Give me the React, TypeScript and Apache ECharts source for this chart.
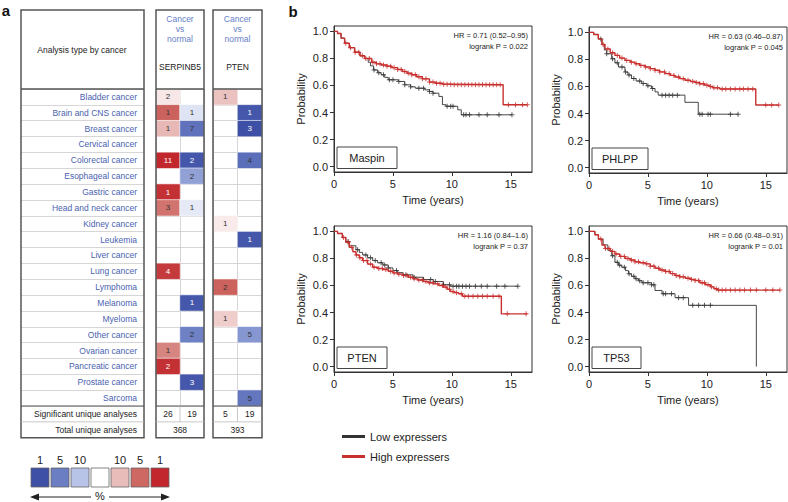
import React, { useEffect, useRef } from 'react';
import * as echarts from 'echarts';

const FONT = 'Liberation Sans, Arial, Helvetica, sans-serif';

// ---------- Panel a: Oncomine-style table ----------
const cancerTypes = [
  'Bladder cancer', 'Brain and CNS cancer', 'Breast cancer', 'Cervical cancer', 'Colorectal cancer',
  'Esophageal cancer', 'Gastric cancer', 'Head and neck cancer', 'Kidney cancer', 'Leukemia',
  'Liver cancer', 'Lung cancer', 'Lymphoma', 'Melanoma', 'Myeloma', 'Other cancer',
  'Ovarian cancer', 'Pancreatic cancer', 'Prostate cancer', 'Sarcoma',
];
const geneNames = ['SERPINB5', 'PTEN'];
const directionCols = ['up', 'down'];
// [column (0 = over-expressed, 1 = under-expressed), row, shade (-1 deep blue … +1 deep red), number of analyses]
const serpinb5Cells = [
  [0, 0, 0.12, 2], [0, 1, 0.7, 1], [1, 1, -0.15, 1], [0, 2, 0.35, 1], [1, 2, -0.75, 7],
  [0, 4, 1.0, 11], [1, 4, -0.95, 2], [1, 5, -0.5, 2], [0, 6, 0.95, 1], [0, 7, 0.62, 3],
  [1, 7, -0.12, 1], [0, 11, 0.9, 4], [1, 13, -0.95, 1], [1, 15, -0.65, 2], [0, 16, 0.55, 1],
  [0, 17, 0.95, 2], [1, 18, -0.95, 3],
];
const ptenCells = [
  [0, 0, 0.3, 1], [1, 1, -0.95, 1], [1, 2, -1.0, 3], [1, 4, -0.78, 4], [0, 8, 0.1, 1],
  [1, 9, -0.95, 1], [0, 12, 0.7, 2], [0, 14, 0.25, 1], [1, 15, -0.55, 5], [1, 19, -0.72, 5],
];
const significantCounts = [[26, 19], [5, 19]];
const totalCounts = [368, 393];
const scaleLabels = ['1', '5', '10', '', '10', '5', '1'];
const scaleColors = ['#3d50a5', '#6b7dc3', '#b8c4e7', '#ffffff', '#e8bcb9', '#cd6863', '#c1272d'];

// ---------- Panel b: Kaplan–Meier curves [time (years), survival] ----------
const maspinLow = [
  [0, 1], [0.3, 0.985], [0.6, 0.95], [0.9, 0.912], [1.3, 0.88], [1.75, 0.846], [2.2, 0.82], [2.6, 0.8],
  [2.9, 0.772], [3.1, 0.745], [3.35, 0.715], [3.7, 0.695], [4.0, 0.679], [4.3, 0.66], [4.6, 0.642], [5.45, 0.63],
  [6.0, 0.605], [6.5, 0.59], [6.9, 0.58], [7.7, 0.568], [8.1, 0.556], [8.4, 0.543], [8.9, 0.519], [9.2, 0.458],
  [9.5, 0.446], [10.5, 0.42], [10.8, 0.383], [15.1, 0.383],
];
const maspinHigh = [
  [0, 1], [0.3, 0.985], [0.6, 0.95], [0.9, 0.912], [1.3, 0.88], [1.75, 0.846], [2.2, 0.82], [2.6, 0.8],
  [3.2, 0.772], [3.6, 0.76], [4.0, 0.752], [4.5, 0.742], [4.9, 0.732], [5.4, 0.718], [5.8, 0.703], [6.2, 0.69],
  [6.6, 0.679], [7.0, 0.665], [7.5, 0.649], [8.1, 0.625], [8.6, 0.617], [9.2, 0.61], [10.0, 0.605],
  [14.35, 0.457], [16.4, 0.457],
];
const maspinLowCens = [3.4, 3.8, 4.2, 4.7, 5.0, 5.5, 6.0, 6.5, 7.2, 7.6, 8.1, 8.4, 9.6, 9.9, 10.1, 11.0, 11.2, 11.5, 12.3, 13.0, 14.0, 15.1];
const maspinHighCens = [1.0, 1.4, 1.8, 2.1, 2.4, 2.7, 3.0, 3.3, 3.6, 3.9, 4.2, 4.5, 4.8, 5.1, 5.4, 5.7, 6.0, 6.3, 6.6, 6.9, 7.2, 7.5, 7.8, 8.1, 8.4, 8.7, 9.0, 9.3, 9.6, 9.9, 10.2, 10.5, 10.8, 11.1, 11.4, 11.7, 12.0, 12.3, 12.6, 12.9, 13.2, 13.5, 13.8, 14.1, 14.8, 15.4, 16.0, 16.4];

const phlppLow = [
  [0, 1], [0.4, 0.985], [0.79, 0.952], [1.1, 0.91], [1.3, 0.87], [1.5, 0.842], [1.92, 0.805], [2.2, 0.775],
  [2.5, 0.744], [3.05, 0.707], [3.3, 0.685], [3.6, 0.659], [4.0, 0.64], [4.47, 0.622], [4.9, 0.605], [5.3, 0.585],
  [5.6, 0.56], [5.87, 0.536], [8.14, 0.483], [9.27, 0.395], [12.65, 0.395],
];
const phlppHigh = [
  [0, 1], [0.4, 0.985], [0.79, 0.952], [1.1, 0.91], [1.36, 0.878], [1.8, 0.85], [2.2, 0.83], [2.6, 0.81],
  [3.05, 0.793], [3.5, 0.78], [3.9, 0.768], [4.3, 0.756], [4.75, 0.744], [5.2, 0.732], [5.6, 0.72], [6.0, 0.708],
  [6.44, 0.695], [6.9, 0.682], [7.29, 0.67], [7.7, 0.658], [8.14, 0.646], [8.6, 0.637], [9.0, 0.629], [9.4, 0.62],
  [9.8, 0.61], [10.2, 0.6], [10.5, 0.59], [11.1, 0.581], [14.15, 0.463], [16.1, 0.463],
];
const phlppLowCens = [1.0, 1.5, 2.0, 2.4, 2.8, 3.1, 3.4, 3.8, 4.3, 4.6, 5.0, 5.4, 6.2, 6.5, 6.8, 7.1, 7.5, 9.4, 9.6, 10.1, 10.3, 12.0, 12.65];
const phlppHighCens = [1.2, 1.6, 2.0, 2.4, 2.8, 3.2, 3.6, 4.0, 4.4, 4.8, 5.2, 5.6, 6.0, 6.4, 6.8, 7.2, 7.6, 8.0, 8.4, 8.8, 9.1, 9.4, 9.7, 10.0, 10.3, 10.6, 10.9, 11.3, 11.6, 12.0, 12.4, 12.8, 13.1, 13.5, 13.9, 15.0, 15.5, 16.1];

const ptenLow = [
  [0, 1], [0.3, 0.985], [0.71, 0.955], [1.0, 0.925], [1.29, 0.894], [1.86, 0.865], [2.15, 0.845], [2.43, 0.826],
  [2.85, 0.805], [3.28, 0.784], [3.7, 0.768], [4.14, 0.752], [4.6, 0.73], [5.0, 0.71], [5.4, 0.695], [5.86, 0.679],
  [6.7, 0.661], [7.57, 0.644], [8.43, 0.629], [9.28, 0.605], [9.86, 0.595], [15.6, 0.595],
];
const ptenHigh = [
  [0, 1], [0.3, 0.985], [0.71, 0.955], [1.0, 0.92], [1.29, 0.882], [1.6, 0.85], [1.86, 0.826], [2.15, 0.805],
  [2.43, 0.784], [2.85, 0.758], [3.28, 0.735], [3.7, 0.726], [4.14, 0.718], [4.6, 0.705], [5.0, 0.693], [5.4, 0.684],
  [5.86, 0.674], [6.3, 0.661], [6.7, 0.649], [7.1, 0.64], [7.57, 0.629], [8.0, 0.62], [8.43, 0.612], [8.9, 0.6],
  [9.28, 0.588], [9.6, 0.572], [9.86, 0.556], [10.2, 0.547], [10.57, 0.539], [10.9, 0.52], [14.2, 0.39], [16.4, 0.39],
];
const ptenLowCens = [1.2, 2.0, 2.7, 3.1, 3.5, 4.0, 4.3, 4.6, 5.3, 6.1, 6.8, 7.6, 8.2, 8.6, 9.3, 9.8, 10.1, 10.4, 10.6, 10.9, 11.2, 11.5, 12.0, 12.5, 13.0, 13.8, 14.5, 15.6];
const ptenHighCens = [0.8, 1.2, 1.5, 1.9, 2.2, 2.5, 2.8, 3.1, 3.4, 3.8, 4.1, 4.4, 4.8, 5.1, 5.5, 5.9, 6.2, 6.5, 6.8, 7.2, 7.5, 7.8, 8.1, 8.4, 8.8, 9.2, 9.5, 9.8, 10.1, 10.4, 10.8, 11.1, 11.4, 11.8, 12.2, 12.6, 13.0, 13.5, 14.0, 14.7, 16.3];

const tp53Low = [
  [0, 1], [0.5, 0.975], [0.8, 0.943], [1.2, 0.9], [1.6, 0.86], [1.93, 0.82], [2.2, 0.771], [2.5, 0.75],
  [2.78, 0.735], [3.1, 0.71], [3.35, 0.686], [3.6, 0.668], [3.9, 0.65], [4.2, 0.635], [4.5, 0.62], [5.3, 0.605],
  [5.6, 0.563], [6.2, 0.539], [7.3, 0.51], [8.45, 0.453], [14.2, 0.0],
];
const tp53High = [
  [0, 1], [0.5, 0.975], [0.8, 0.943], [1.1, 0.9], [1.36, 0.874], [1.8, 0.852], [2.2, 0.833], [2.6, 0.815],
  [3.06, 0.8], [3.5, 0.788], [3.9, 0.776], [4.3, 0.768], [4.77, 0.76], [5.2, 0.743], [5.6, 0.727], [6.0, 0.715],
  [6.47, 0.703], [6.9, 0.688], [7.3, 0.674], [7.7, 0.664], [8.17, 0.654], [8.6, 0.645], [9.0, 0.637], [9.4, 0.62],
  [9.87, 0.605], [10.3, 0.59], [10.6, 0.576], [10.9, 0.566], [16.2, 0.566],
];
const tp53LowCens = [2.0, 2.4, 2.6, 3.0, 3.4, 3.8, 4.0, 4.3, 4.6, 5.0, 5.3, 5.5, 6.3, 6.5, 7.0, 7.6, 8.0, 8.8, 9.3, 9.8, 10.3];
const tp53HighCens = [1.0, 1.4, 1.7, 2.0, 2.3, 2.7, 3.0, 3.3, 3.6, 3.9, 4.2, 4.6, 4.9, 5.2, 5.5, 5.9, 6.2, 6.5, 6.8, 7.1, 7.4, 7.7, 8.0, 8.4, 8.7, 9.0, 9.3, 9.6, 9.8, 10.1, 10.4, 10.8, 11.0, 11.3, 11.6, 12.0, 12.4, 12.8, 13.2, 13.7, 14.2, 15.0, 15.6, 16.2];

const kmGenes = ['Maspin', 'PHLPP', 'PTEN', 'TP53'];
const kmHR = ['HR = 0.71 (0.52–0.95)', 'HR = 0.63 (0.46–0.87)', 'HR = 1.16 (0.84–1.6)', 'HR = 0.66 (0.48–0.91)'];
const kmP = ['logrank P = 0.022', 'logrank P = 0.045', 'logrank P = 0.37', 'logrank P = 0.01'];
const kmLow = [maspinLow, phlppLow, ptenLow, tp53Low];
const kmHigh = [maspinHigh, phlppHigh, ptenHigh, tp53High];
const kmLowCens = [maspinLowCens, phlppLowCens, ptenLowCens, tp53LowCens];
const kmHighCens = [maspinHighCens, phlppHighCens, ptenHighCens, tp53HighCens];
const xTicks = [0, 5, 10, 15];
const yTicks = [0, 0.2, 0.4, 0.6, 0.8, 1.0];
const seriesNames = ['Low expressers', 'High expressers'];

const LOW_COLOR = '#333333';
const HIGH_COLOR = '#c8302e';
const PLUS = 'path://M2,0h1v2h2v1h-2v2h-1v-2h-2v-1h2z';

function survAt(curve: number[][], t: number) {
  let s = curve[0][1];
  for (const [ti, si] of curve) {
    if (ti <= t) s = si;
    else break;
  }
  return s;
}

const panelPos = [
  { left: 334, top: 26 },
  { left: 589, top: 27 },
  { left: 334, top: 226 },
  { left: 589, top: 226 },
];
const PW = 198;
const PH = 146;

function text(t: string, x: number, y: number, opts: any = {}) {
  const align = opts.align || 'center';
  return {
    type: 'text',
    z: 20,
    style: {
      text: t, x, y,
      fill: opts.fill || '#222',
      fontSize: opts.fontSize || 8.5,
      fontFamily: FONT,
      fontWeight: opts.fontWeight || 'normal',
      align, textAlign: align,
      verticalAlign: 'middle', textVerticalAlign: 'middle',
    },
  };
}
function rect(x: number, y: number, w: number, h: number, stroke = '#555', lw = 1.5, fill = 'none') {
  return { type: 'rect', z: 20, shape: { x, y, width: w, height: h }, style: { fill, stroke, lineWidth: lw } };
}
function line(x1: number, y1: number, x2: number, y2: number, stroke = '#555', lw = 1) {
  return { type: 'line', z: 20, shape: { x1, y1, x2, y2 }, style: { stroke, lineWidth: lw } };
}

function heatData(cells: number[][]) {
  return cells.map((c) => ({
    value: c,
    label: { color: Math.abs(c[2]) >= 0.85 ? '#ffffff' : '#333333' },
  }));
}

export default function App() {
  const ref = useRef<HTMLDivElement>(null);
  useEffect(() => {
    if (!ref.current) return;
    const chart = echarts.init(ref.current, null, { renderer: 'svg' });

    const TABLE_TOP = 89;
    const ROW_H = 317 / 20;
    const TABLE_H = 317;
    const tableBottom = TABLE_TOP + TABLE_H; // 406
    const sigY = tableBottom + ROW_H / 2;
    const totY = tableBottom + ROW_H * 1.5;
    const boxBottom = tableBottom + ROW_H * 2;

    const grids: any[] = [
      { left: 21, top: TABLE_TOP, width: 123, height: TABLE_H },
      { left: 156, top: TABLE_TOP, width: 48, height: TABLE_H },
      { left: 213, top: TABLE_TOP, width: 49, height: TABLE_H },
    ];
    panelPos.forEach((p) => grids.push({ left: p.left, top: p.top, width: PW, height: PH, show: true, borderColor: '#333', borderWidth: 1 }));

    const splitStyle = { show: true, interval: 0, lineStyle: { color: '#cccccc', width: 0.8 } };
    const xAxes: any[] = [
      { gridIndex: 0, type: 'category', data: [''], show: false },
      { gridIndex: 1, type: 'category', data: directionCols, axisLabel: { show: false }, axisTick: { show: false }, axisLine: { show: false }, splitLine: splitStyle },
      { gridIndex: 2, type: 'category', data: directionCols, axisLabel: { show: false }, axisTick: { show: false }, axisLine: { show: false }, splitLine: splitStyle },
    ];
    const yAxes: any[] = [
      {
        gridIndex: 0, type: 'category', data: cancerTypes, inverse: true, position: 'right',
        axisLine: { show: false }, axisTick: { show: false },
        axisLabel: { inside: true, margin: 7, interval: 0, color: '#4a5fb0', fontSize: 8.5, fontFamily: FONT },
        splitLine: splitStyle,
      },
      { gridIndex: 1, type: 'category', data: cancerTypes, inverse: true, axisLabel: { show: false }, axisTick: { show: false }, axisLine: { show: false }, splitLine: splitStyle },
      { gridIndex: 2, type: 'category', data: cancerTypes, inverse: true, axisLabel: { show: false }, axisTick: { show: false }, axisLine: { show: false }, splitLine: splitStyle },
    ];
    panelPos.forEach((_, i) => {
      xAxes.push({
        gridIndex: 3 + i, type: 'value', min: 0, max: 16.8,
        name: 'Time (years)', nameLocation: 'middle', nameGap: 22,
        nameTextStyle: { fontSize: 11, color: '#222', fontFamily: FONT },
        axisLine: { show: true, onZero: false, lineStyle: { color: '#333' } },
        axisTick: { show: true, length: 4, customValues: xTicks, lineStyle: { color: '#333' } },
        axisLabel: { customValues: xTicks, fontSize: 11, color: '#222', margin: 6, fontFamily: FONT },
        splitLine: { show: false },
      });
      yAxes.push({
        gridIndex: 3 + i, type: 'value', min: -0.04, max: 1.04,
        name: 'Probability', nameLocation: 'middle', nameGap: 28,
        nameTextStyle: { fontSize: 11, color: '#222', fontFamily: FONT },
        axisLine: { show: true, onZero: false, lineStyle: { color: '#333' } },
        axisTick: { show: true, length: 4, customValues: yTicks, lineStyle: { color: '#333' } },
        axisLabel: { customValues: yTicks, fontSize: 11, color: '#222', margin: 6, fontFamily: FONT, formatter: (v: number) => v.toFixed(1) },
        splitLine: { show: false },
      });
    });

    const heatLabel = { show: true, fontSize: 8, fontFamily: FONT, formatter: (p: any) => String(p.value[3]) };
    const series: any[] = [
      { type: 'heatmap', xAxisIndex: 1, yAxisIndex: 1, data: heatData(serpinb5Cells), label: heatLabel, itemStyle: { borderColor: '#ffffff', borderWidth: 0.6 } },
      { type: 'heatmap', xAxisIndex: 2, yAxisIndex: 2, data: heatData(ptenCells), label: heatLabel, itemStyle: { borderColor: '#ffffff', borderWidth: 0.6 } },
    ];
    kmGenes.forEach((_, i) => {
      const ax = 3 + i;
      series.push(
        { type: 'line', name: seriesNames[0], xAxisIndex: ax, yAxisIndex: ax, step: 'end', symbol: 'none', data: kmLow[i], lineStyle: { color: LOW_COLOR, width: 0.9 }, itemStyle: { color: LOW_COLOR }, z: 3 },
        { type: 'line', name: seriesNames[1], xAxisIndex: ax, yAxisIndex: ax, step: 'end', symbol: 'none', data: kmHigh[i], lineStyle: { color: HIGH_COLOR, width: 1.4 }, itemStyle: { color: HIGH_COLOR }, z: 4 },
        { type: 'scatter', name: 'low-censored', xAxisIndex: ax, yAxisIndex: ax, symbol: PLUS, symbolSize: 5, data: kmLowCens[i].map((t) => [t, survAt(kmLow[i], t)]), itemStyle: { color: LOW_COLOR }, z: 3 },
        { type: 'scatter', name: 'high-censored', xAxisIndex: ax, yAxisIndex: ax, symbol: PLUS, symbolSize: 5, data: kmHighCens[i].map((t) => [t, survAt(kmHigh[i], t)]), itemStyle: { color: HIGH_COLOR }, z: 4 },
      );
    });

    const graphics: any[] = [];
    graphics.push(text('a', 6, 10, { fontSize: 15, fontWeight: 'bold', fill: '#111' }));
    graphics.push(text('b', 293, 11, { fontSize: 15, fontWeight: 'bold', fill: '#111' }));

    // table frames
    const colBoxes = [
      { x: 156, w: 48 },
      { x: 213, w: 49 },
    ];
    graphics.push(rect(21, 10, 123, boxBottom - 10));
    graphics.push(line(21, TABLE_TOP, 144, TABLE_TOP, '#555', 1.5));
    graphics.push(line(21, tableBottom, 144, tableBottom, '#555', 1.2));
    graphics.push(line(21, tableBottom + ROW_H, 144, tableBottom + ROW_H, '#bbbbbb', 0.8));
    graphics.push(text('Analysis type by cancer', 82, 50, { fontSize: 8.5 }));
    graphics.push(text('Significant unique analyses', 137, sigY, { align: 'right', fontSize: 8.5 }));
    graphics.push(text('Total unique analyses', 137, totY, { align: 'right', fontSize: 8.5 }));
    colBoxes.forEach((b, gi) => {
      const cx = b.x + b.w / 2;
      graphics.push(rect(b.x, 10, b.w, boxBottom - 10));
      graphics.push(line(b.x, TABLE_TOP, b.x + b.w, TABLE_TOP, '#555', 1.5));
      graphics.push(line(b.x, tableBottom, b.x + b.w, tableBottom, '#555', 1.2));
      graphics.push(line(b.x, tableBottom + ROW_H, b.x + b.w, tableBottom + ROW_H, '#bbbbbb', 0.8));
      graphics.push(line(cx, tableBottom, cx, tableBottom + ROW_H, '#bbbbbb', 0.8));
      graphics.push(text('Cancer', cx, 19, { fill: '#6580c8' }));
      graphics.push(text('vs', cx, 29, { fill: '#6580c8' }));
      graphics.push(text('normal', cx, 39, { fill: '#6580c8' }));
      graphics.push(text(geneNames[gi], cx, 66.5, { fill: '#222' }));
      graphics.push(text(String(significantCounts[gi][0]), b.x + b.w / 4, sigY, {}));
      graphics.push(text(String(significantCounts[gi][1]), b.x + (3 * b.w) / 4, sigY, {}));
      graphics.push(text(String(totalCounts[gi]), cx, totY, {}));
    });

    // colour scale
    scaleColors.forEach((c, i) => {
      const x = 31 + i * 20;
      graphics.push(rect(x, 468, 18, 19, '#666', 0.8, c));
      if (scaleLabels[i]) graphics.push(text(scaleLabels[i], x + 9, 459.5, { fontSize: 11 }));
    });
    graphics.push(line(36, 497, 91, 497, '#222', 1));
    graphics.push(line(109, 497, 164, 497, '#222', 1));
    graphics.push({ type: 'polygon', z: 20, shape: { points: [[30, 497], [39, 493.5], [39, 500.5]] }, style: { fill: '#222' } });
    graphics.push({ type: 'polygon', z: 20, shape: { points: [[170, 497], [161, 493.5], [161, 500.5]] }, style: { fill: '#222' } });
    graphics.push(text('%', 100, 496, { fontSize: 11 }));

    // KM annotations
    const geneBoxW = [60, 56, 50, 49];
    panelPos.forEach((p, i) => {
      const right = p.left + PW;
      graphics.push(text(kmHR[i], right - 4, p.top + 9.5, { align: 'right', fontSize: 7.5 }));
      graphics.push(text(kmP[i], right - 4, p.top + 20, { align: 'right', fontSize: 7.5 }));
      const bx = p.left + 3;
      const by = p.top + 121;
      graphics.push(rect(bx, by, geneBoxW[i], 21.5, '#444', 1, '#ffffff'));
      graphics.push(text(kmGenes[i], bx + geneBoxW[i] / 2, by + 11, { fontSize: 11 }));
    });

    chart.setOption({
      animation: false,
      backgroundColor: '#ffffff',
      textStyle: { fontFamily: FONT },
      grid: grids,
      xAxis: xAxes,
      yAxis: yAxes,
      visualMap: {
        type: 'continuous', show: false, min: -1, max: 1, dimension: 2, seriesIndex: [0, 1],
        inRange: { color: scaleColors },
      },
      legend: {
        data: seriesNames.map((n) => ({ name: n, icon: 'rect' })),
        orient: 'vertical', left: 337, top: 426, itemWidth: 23, itemHeight: 3, itemGap: 9,
        textStyle: { fontSize: 11, color: '#222', fontFamily: FONT },
        selectedMode: false,
      },
      series,
      graphic: graphics,
    });
    return () => chart.dispose();
  }, []);
  return <div ref={ref} style={{ position: 'fixed', left: 0, top: 0, width: 788, height: 502 }} />;
}
